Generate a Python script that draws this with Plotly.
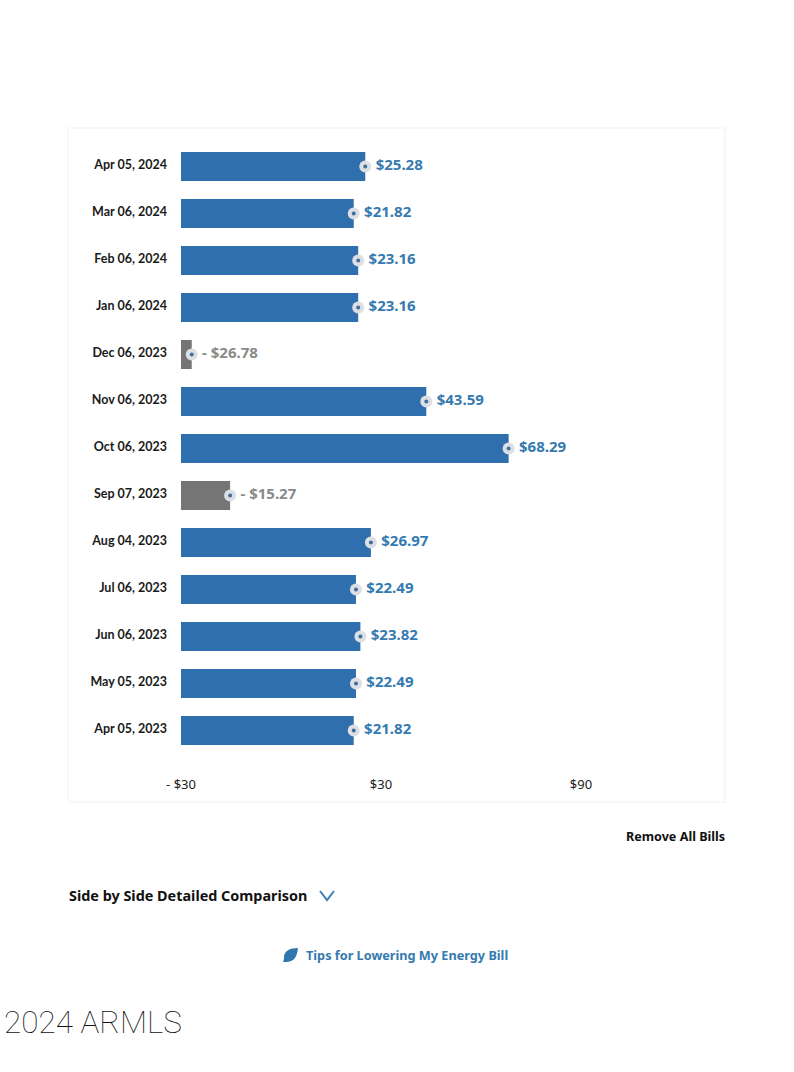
import plotly.graph_objects as go

dates = ["Apr 05, 2024", "Mar 06, 2024", "Feb 06, 2024", "Jan 06, 2024", "Dec 06, 2023", "Nov 06, 2023",
         "Oct 06, 2023", "Sep 07, 2023", "Aug 04, 2023", "Jul 06, 2023", "Jun 06, 2023", "May 05, 2023", "Apr 05, 2023"]
values = [25.28, 21.82, 23.16, 23.16, -26.78, 43.59, 68.29, -15.27, 26.97, 22.49, 23.82, 22.49, 21.82]
tick_vals = [-30, 30, 90]
tick_text = ["- $30", "$30", "$90"]
BASE = -30
BLUE, GREY, TBLUE, TGREY = "#2f6fad", "#757575", "#357ab0", "#8a8a8a"
W, H = 794, 1072

def px(x): return x / W
def py(y): return 1 - y / H

colors = [BLUE if v >= 0 else GREY for v in values]
tcolors = [TBLUE if v >= 0 else TGREY for v in values]
labels = [f"${v:.2f}" if v >= 0 else f"- ${abs(v):.2f}" for v in values]

fig = go.Figure()
fig.add_bar(y=dates, x=[v - BASE for v in values], base=BASE, orientation="h",
            marker=dict(color=colors, line=dict(width=0)), showlegend=False)
fig.add_scatter(y=dates, x=values, mode="markers", showlegend=False, cliponaxis=False,
                marker=dict(size=12, color="#dce0e5", line=dict(width=0)))
fig.add_scatter(y=dates, x=values, mode="markers", showlegend=False, cliponaxis=False,
                marker=dict(size=4, color="#3f6f9a", line=dict(width=0)))
fig.add_scatter(y=dates, x=values, mode="markers+text", showlegend=False, cliponaxis=False,
                text=labels, textposition="middle right",
                marker=dict(size=15, opacity=0),
                textfont=dict(family="Noto Sans", size=15, color=tcolors, weight=700))

shapes = [
    dict(type="rect", xref="paper", yref="paper", x0=px(68), x1=px(725), y0=py(128), y1=py(802),
         line=dict(color="#f1f1f1", width=1), fillcolor="white", layer="below"),
    dict(type="path", xref="paper", yref="paper", line=dict(color="#3a7fb5", width=2),
         path=f"M {px(320)} {py(891)} L {px(327)} {py(900)} L {px(334)} {py(891)}"),
    dict(type="path", xref="paper", yref="paper", fillcolor="#2f78ad", line=dict(width=0),
         path=f"M {px(298)} {py(948)} C {px(290)} {py(948)} {px(283)} {py(951)} {px(284)} {py(959)} "
              f"L {px(283)} {py(962)} L {px(286)} {py(962)} C {px(294)} {py(962)} {px(297)} {py(957)} {px(298)} {py(948)} Z"),
]

def note(text, x, y, anchor, size, color, family="Noto Sans", weight=700):
    return dict(text=text, xref="paper", yref="paper", x=px(x), y=py(y), xanchor=anchor, yanchor="middle",
                showarrow=False, font=dict(family=family, size=size, color=color, weight=weight))

annotations = [
    note("Remove All Bills", 727, 836, "right", 12.6, "#111111"),
    note("Side by Side Detailed Comparison", 67, 895, "left", 14.4, "#111111"),
    note("Tips for Lowering My Energy Bill", 304, 955, "left", 12.7, "#357ab0"),
    note("2024 ARMLS", 2, 1022, "left", 31.5, "#111111", "Roboto", 100),
]

fig.update_layout(
    width=W, height=H, margin=dict(l=0, r=0, t=0, b=0), autosize=False,
    paper_bgcolor="white", plot_bgcolor="rgba(0,0,0,0)",
    bargap=0.383, shapes=shapes, annotations=annotations,
    xaxis=dict(domain=[px(181), px(725)], range=[BASE, BASE + 544 / (200 / 60)], showgrid=False, zeroline=False,
               automargin=False, showline=False, tickvals=tick_vals, ticktext=tick_text, ticks="",
               ticklabelstandoff=21, tickfont=dict(family="Noto Sans", size=13, color="#222222")),
    yaxis=dict(domain=[py(754), py(143)], type="category", categoryorder="array", categoryarray=dates,
               range=[len(dates) - 0.5, -0.5], showgrid=False, zeroline=False, showline=False, ticks="",
               automargin=False, ticklabelstandoff=13, ticklabelshift=2,
               tickfont=dict(family="Lato", size=12.5, color="#1a1a1a", weight=700)),
)
fig.write_html("out.html", post_script="document.body.style.margin='0';", config=dict(displayModeBar=False))
